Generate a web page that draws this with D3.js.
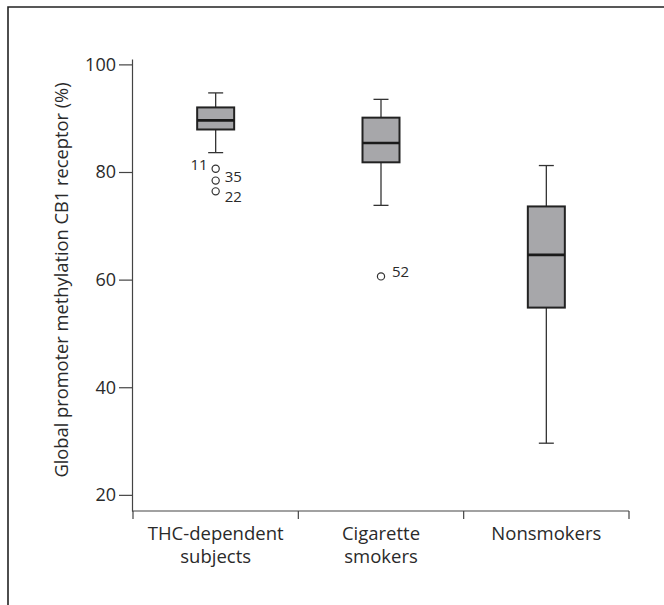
<!DOCTYPE html>
<html>
<head>
<meta charset="utf-8">
<script src="https://cdn.jsdelivr.net/npm/d3@7"></script>
<style>
  body { margin: 0; background: #fff; }
  text { font-family: "Open Sans", sans-serif; fill: #2a2a2a; }
</style>
</head>
<body>
<div id="chart"></div>
<script>
/// Data
var categories   = ["THC-dependent subjects", "Cigarette smokers", "Nonsmokers"]
var catLines     = [["THC-dependent", "subjects"], ["Cigarette", "smokers"], ["Nonsmokers"]]
var whiskerLow   = [83.6, 73.8, 29.6]
var q1           = [87.9, 81.8, 54.8]
var median       = [89.6, 85.4, 64.6]
var q3           = [92.0, 90.1, 73.6]
var whiskerHigh  = [94.7, 93.5, 81.2]

var outlierGroup = [0, 0, 0, 1]
var outlierValue = [80.6, 78.4, 76.4, 60.6]
var outlierId    = ["11", "35", "22", "52"]

var yTicks = [20, 40, 60, 80, 100]

var W = 664, H = 605

var svg = d3.select("#chart").append("svg")
    .attr("width", W).attr("height", H)

/// frame (only top and left edges fall inside the picture)
svg.append("path")
    .attr("d", "M8," + (H + 5) + "V7H" + (W + 5))
    .attr("fill", "none").attr("stroke", "#222").attr("stroke-width", 1.6)

var y = d3.scaleLinear().domain([17, 101]).range([511, 59])
var x = d3.scaleBand().domain(categories).range([133, 629])

/// y axis
var yAxis = svg.append("g")
    .attr("transform", "translate(132,0)")
    .call(d3.axisLeft(y).tickValues(yTicks).tickSize(13).tickSizeOuter(0).tickPadding(3))
yAxis.selectAll("path, line").attr("stroke", "#444").attr("stroke-width", 1.2)
yAxis.selectAll("text").style("font-size", "18px").attr("fill", "#2a2a2a")
    .attr("font-family", null)

svg.append("text")
    .attr("transform", "translate(68,280) rotate(-90)")
    .attr("text-anchor", "middle")
    .style("font-size", "18.3px")
    .text("Global promoter methylation CB1 receptor (%)")

/// x axis: line and ticks at band edges
var xg = svg.append("g")
xg.append("line")
    .attr("x1", x.range()[0] - 1).attr("x2", x.range()[1])
    .attr("y1", y(17)).attr("y2", y(17))
    .attr("stroke", "#444").attr("stroke-width", 1.2)
var edges = categories.map(c => x(c)).concat([x.range()[1]])
xg.selectAll(".edge").data(edges).enter().append("line")
    .attr("x1", d => d).attr("x2", d => d)
    .attr("y1", y(17)).attr("y2", y(17) + 8)
    .attr("stroke", "#444").attr("stroke-width", 1.2)

xg.selectAll(".cat").data(categories).enter().append("text")
    .attr("text-anchor", "middle")
    .attr("x", d => x(d) + x.bandwidth() / 2)
    .attr("y", 540)
    .style("font-size", "18.5px")
    .each(function(d, i) {
        var t = d3.select(this)
        catLines[i].forEach((l, j) => {
            t.append("tspan")
                .attr("x", x(d) + x.bandwidth() / 2)
                .attr("dy", j ? 23 : 0)
                .text(l)
        })
    })

/// boxes
var bw = 37, cap = 15
var g = svg.selectAll(".box").data(categories).enter().append("g")
    .attr("transform", d => "translate(" + (x(d) + x.bandwidth() / 2) + ",0)")

g.append("line")   /// whisker stem
    .attr("x1", 0).attr("x2", 0)
    .attr("y1", (d, i) => y(whiskerLow[i])).attr("y2", (d, i) => y(whiskerHigh[i]))
    .attr("stroke", "#333").attr("stroke-width", 1.3)
g.append("line")
    .attr("x1", -cap / 2).attr("x2", cap / 2)
    .attr("y1", (d, i) => y(whiskerLow[i])).attr("y2", (d, i) => y(whiskerLow[i]))
    .attr("stroke", "#333").attr("stroke-width", 1.3)
g.append("line")
    .attr("x1", -cap / 2).attr("x2", cap / 2)
    .attr("y1", (d, i) => y(whiskerHigh[i])).attr("y2", (d, i) => y(whiskerHigh[i]))
    .attr("stroke", "#333").attr("stroke-width", 1.3)
g.append("rect")
    .attr("x", -bw / 2).attr("width", bw)
    .attr("y", (d, i) => y(q3[i]))
    .attr("height", (d, i) => y(q1[i]) - y(q3[i]))
    .attr("fill", "#a7a7aa").attr("stroke", "#222").attr("stroke-width", 2)
g.append("line")
    .attr("x1", -bw / 2).attr("x2", bw / 2)
    .attr("y1", (d, i) => y(median[i])).attr("y2", (d, i) => y(median[i]))
    .attr("stroke", "#1a1a1a").attr("stroke-width", 2.6)

/// outliers
var labelShift = { "11": [-8, -4, "end"], "35": [9, -4, "start"], "22": [9, 5, "start"], "52": [11, -5, "start"] }
outlierValue.forEach((v, i) => {
    var cx = x(categories[outlierGroup[i]]) + x.bandwidth() / 2
    svg.append("circle")
        .attr("cx", cx).attr("cy", y(v)).attr("r", 3.6)
        .attr("fill", "#fff").attr("stroke", "#333").attr("stroke-width", 1.2)
    var s = labelShift[outlierId[i]]
    svg.append("text")
        .attr("x", cx + s[0]).attr("y", y(v) + s[1])
        .attr("dy", "0.35em")
        .attr("text-anchor", s[2])
        .style("font-size", "15px")
        .text(outlierId[i])
})
</script>
</body>
</html>
